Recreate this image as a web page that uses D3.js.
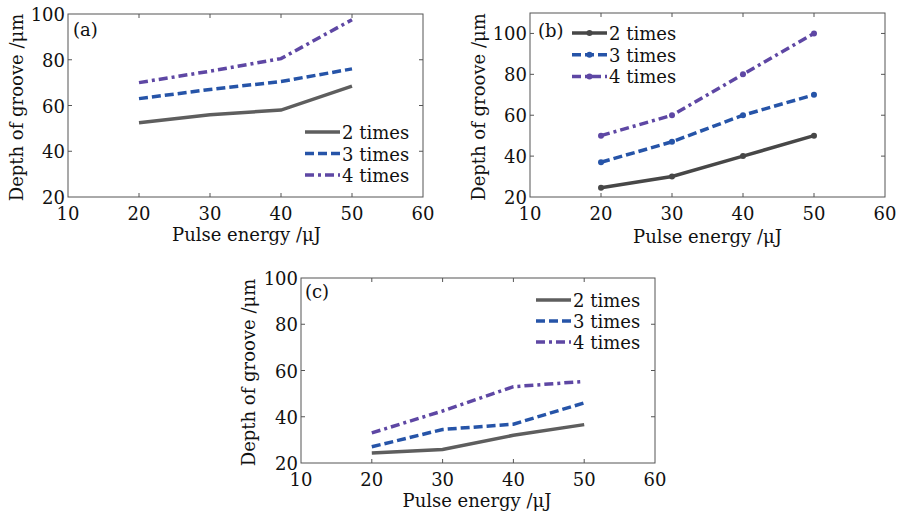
<!DOCTYPE html>
<html>
<head>
<meta charset="utf-8">
<script src="https://cdn.jsdelivr.net/npm/d3@7"></script>
<style>
  body { margin: 0; background: #fff; }
  svg text { font-family: "DejaVu Serif", "Liberation Serif", serif; fill: #111; }
</style>
</head>
<body>
<svg id="chart" width="900" height="518"></svg>
<script>
// pulse energy (uJ)
var energy = [20, 30, 40, 50];
var seriesNames = ['2 times', '3 times', '4 times'];
var xTicks = [10, 20, 30, 40, 50, 60];
var yTicks = [20, 40, 60, 80, 100];

// groove depth (um)
var depthA = [
  [52.5, 56, 58, 68.5],
  [63, 67, 70.5, 76],
  [70, 75, 80.5, 97.5]
];
var depthB = [
  [24.5, 30, 40, 50],
  [37, 47, 60, 70],
  [50, 60, 80, 100]
];
var depthC = [
  [24.3, 25.8, 32, 36.6],
  [27, 34.5, 36.8, 46],
  [33, 42.5, 53, 55.3]
];

var colors = ['#5e5e5e', '#2654a8', '#5e47a4'];
var dashes = [null, '9,4', '9,4,3,4'];
var fs = '18px';

var svg = d3.select('#chart');

function panel(opt) {
  var w = opt.x1 - opt.x0, h = opt.y1 - opt.y0;
  var xs = d3.scaleLinear().domain([10, 60]).range([0, w]);
  var ys = d3.scaleLinear().domain(opt.ydomain).range([h, 0]);

  var g = svg.append('g').attr('transform', 'translate(' + opt.x0 + ',' + opt.y0 + ')');

  // frame
  g.append('rect').attr('width', w).attr('height', h)
    .attr('fill', 'none').attr('stroke', '#555').attr('stroke-width', 1);

  // inward ticks on all four sides
  var tl = 4;
  xTicks.slice(1, -1).forEach(function(t) {
    g.append('line').attr('x1', xs(t)).attr('x2', xs(t)).attr('y1', h).attr('y2', h - tl).attr('stroke', '#555');
    g.append('line').attr('x1', xs(t)).attr('x2', xs(t)).attr('y1', 0).attr('y2', tl).attr('stroke', '#555');
  });
  yTicks.forEach(function(t) {
    if (ys(t) <= 0.5 || ys(t) >= h - 0.5) return;
    g.append('line').attr('y1', ys(t)).attr('y2', ys(t)).attr('x1', 0).attr('x2', tl).attr('stroke', '#555');
    g.append('line').attr('y1', ys(t)).attr('y2', ys(t)).attr('x1', w).attr('x2', w - tl).attr('stroke', '#555');
  });

  // tick labels
  g.selectAll('.xt').data(xTicks).enter().append('text')
    .attr('x', function(d) { return xs(d); })
    .attr('y', h + 23)
    .attr('text-anchor', 'middle')
    .style('font-size', fs)
    .text(function(d) { return d; });

  g.selectAll('.yt').data(yTicks).enter().append('text')
    .attr('x', -3)
    .attr('y', function(d) { return ys(d) + 7; })
    .attr('text-anchor', 'end')
    .style('font-size', fs)
    .text(function(d) { return d; });

  // axis titles
  g.append('text')
    .attr('x', w / 2 + opt.xlabShift)
    .attr('y', h + opt.xlabY)
    .attr('text-anchor', 'middle')
    .style('font-size', fs)
    .text('Pulse energy /\u03bcJ');

  g.append('text')
    .attr('transform', 'translate(' + opt.ylabX + ',' + (h / 2 + 2) + ') rotate(-90)')
    .attr('text-anchor', 'middle')
    .style('font-size', fs)
    .text('Depth of groove /\u03bcm');

  // lines
  var line = d3.line()
    .x(function(d, i) { return xs(energy[i]); })
    .y(function(d) { return ys(d); });

  opt.data.forEach(function(s, k) {
    g.append('path').datum(s)
      .attr('d', line)
      .attr('fill', 'none')
      .attr('stroke', opt.colors[k])
      .attr('stroke-width', 3.5)
      .attr('stroke-dasharray', dashes[k]);
    if (opt.markers) {
      g.selectAll('.m' + k).data(s).enter().append('circle')
        .attr('cx', function(d, i) { return xs(energy[i]); })
        .attr('cy', function(d) { return ys(d); })
        .attr('r', 3)
        .attr('fill', opt.colors[k]);
    }
  });

  // panel label
  g.append('text')
    .attr('x', opt.labX).attr('y', opt.labY)
    .style('font-size', fs)
    .text(opt.label);

  // legend
  seriesNames.forEach(function(n, k) {
    var ly = opt.legY + k * opt.legStep;
    g.append('line')
      .attr('x1', opt.legX).attr('x2', opt.legX + 35)
      .attr('y1', ly).attr('y2', ly)
      .attr('stroke', opt.colors[k]).attr('stroke-width', 3.5)
      .attr('stroke-dasharray', dashes[k]);
    if (opt.markers) {
      g.append('circle').attr('cx', opt.legX + 17.5).attr('cy', ly).attr('r', 3).attr('fill', opt.colors[k]);
    }
    g.append('text')
      .attr('x', opt.legX + 37).attr('y', ly + 7)
      .style('font-size', fs)
      .text(n);
  });
}

panel({
  x0: 68, y0: 14, x1: 423, y1: 197, ydomain: [20, 100],
  data: depthA, colors: colors, markers: false, label: '(a)',
  labX: 5, labY: 22, legX: 237, legY: 118, legStep: 21.5,
  xlabShift: 1, xlabY: 44, ylabX: -45
});

panel({
  x0: 530, y0: 13, x1: 885, y1: 197, ydomain: [20, 110],
  data: depthB, colors: ['#474747', '#2654a8', '#5e47a4'], markers: true, label: '(b)',
  labX: 8, labY: 24, legX: 42, legY: 20, legStep: 21.7,
  xlabShift: 0, xlabY: 46, ylabX: -45
});

panel({
  x0: 301, y0: 278, x1: 655, y1: 463, ydomain: [20, 100],
  data: depthC, colors: colors, markers: false, label: '(c)',
  labX: 4, labY: 20, legX: 235, legY: 22, legStep: 21,
  xlabShift: -1, xlabY: 44, ylabX: -46
});
</script>
</body>
</html>
